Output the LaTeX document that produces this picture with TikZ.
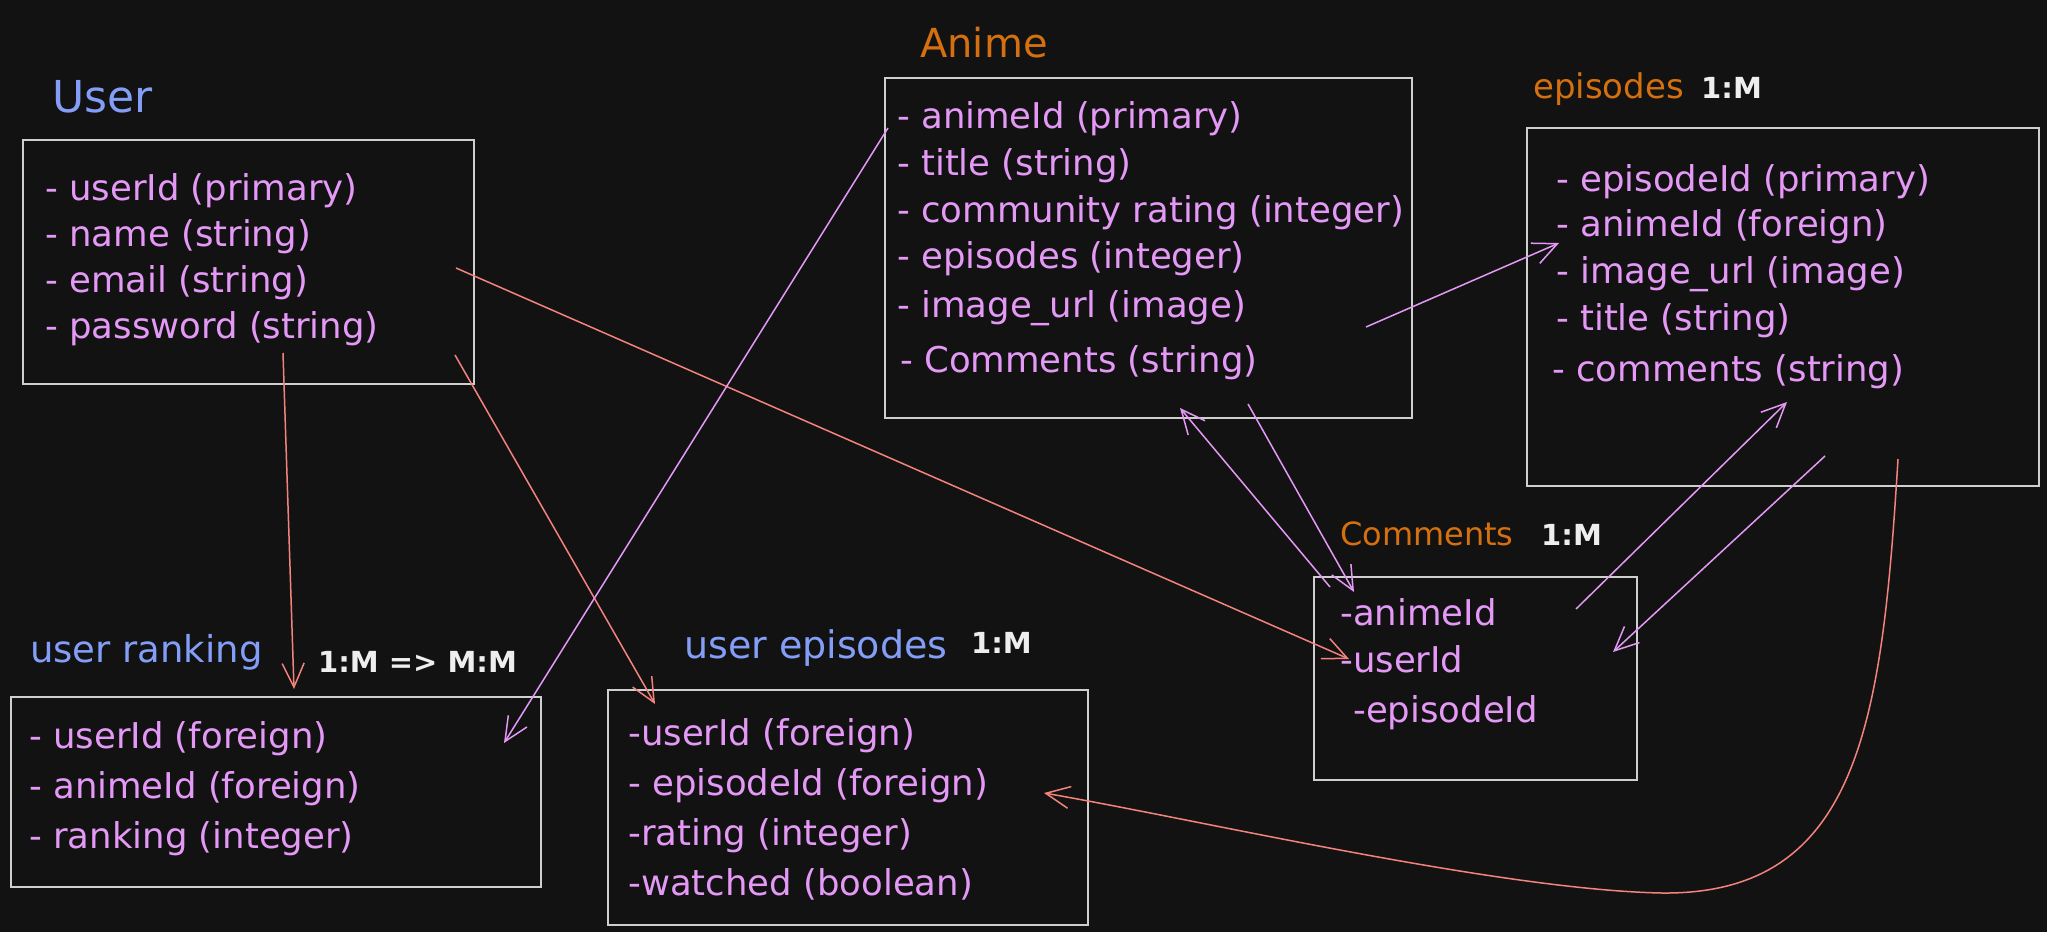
\documentclass[tikz,border=0pt]{standalone}
\usepackage{fontspec}
\setmainfont{DejaVu Sans}
\usetikzlibrary{arrows.meta}
\definecolor{bgc}{HTML}{121212}
\definecolor{vio}{HTML}{E599F7}
\definecolor{blu}{HTML}{849EF8}
\definecolor{org}{HTML}{D4700F}
\definecolor{wht}{HTML}{EEEEEE}
\definecolor{redc}{HTML}{F4837D}
\definecolor{boxc}{HTML}{CFCFCF}
\newcommand\itmfont{\fontsize{35.5}{40}\selectfont}
\begin{document}
\begin{tikzpicture}[x=1pt,y=-1pt,
  tbl/.style={draw=boxc, line width=1.6pt, rectangle, inner sep=0pt, anchor=north west},
  itm/.style={anchor=base west, inner sep=0pt, text=vio, font=\itmfont},
  ttl/.style={anchor=base west, inner sep=0pt},
  card/.style={anchor=base west, inner sep=0pt, text=wht, font=\bfseries\fontsize{29}{34}\selectfont},
  conn/.style={line width=1.5pt, -{Straight Barb[length=24pt,width=22pt]}},
  redarr/.style={conn, draw=redc},
  vioarr/.style={conn, draw=vio}]
\path[use as bounding box, fill=bgc] (0,0) rectangle (2047,932);

% ---------- boxes ----------
\node[tbl, minimum width=451pt, minimum height=244pt] (user) at (22,139) {};
\node[tbl, minimum width=527pt, minimum height=340pt] (anime) at (884,77) {};
\node[tbl, minimum width=512pt, minimum height=358pt] (episodes) at (1526,127) {};
\node[tbl, minimum width=323pt, minimum height=203pt] (comments) at (1313,576) {};
\node[tbl, minimum width=530pt, minimum height=190pt] (ranking) at (10,696) {};
\node[tbl, minimum width=480pt, minimum height=235pt] (uepis) at (607,689) {};

% ---------- titles ----------
\node[ttl, text=blu, font=\fontsize{44}{50}\selectfont] (userT) at (52,112) {User};
\node[ttl, text=org, font=\fontsize{40}{46}\selectfont] (animeT) at (920,57) {Anime};
\node[ttl, text=org, font=\fontsize{34}{40}\selectfont] (epT) at (1533,98) {episodes};
\node[card] (epR) at (1701,98) {1:M};
\node[ttl, text=org, font=\fontsize{32}{38}\selectfont] (comT) at (1340,545) {Comments};
\node[card] (comR) at (1541,545) {1:M};
\node[ttl, text=blu, font=\fontsize{37}{42}\selectfont] (rankT) at (30,662) {user ranking};
\node[card] (rankR) at (318,672) {1:M => M:M};
\node[ttl, text=blu, font=\fontsize{38}{44}\selectfont] (ueT) at (684,658) {user episodes};
\node[card] (ueR) at (971,653) {1:M};

% ---------- User items ----------
\node[itm] (u1) at (45,200) {- userId (primary)};
\node[itm] (u2) at (45,246) {- name (string)};
\node[itm] (u3) at (45,292) {- email (string)};
\node[itm] (u4) at (45,338) {- password (string)};

% ---------- Anime items ----------
\node[itm] (a1) at (897,128) {- animeId (primary)};
\node[itm] (a2) at (897,175) {- title (string)};
\node[itm] (a3) at (897,222) {- community rating (integer)};
\node[itm] (a4) at (897,268) {- episodes (integer)};
\node[itm] (a5) at (897,317) {- image\_url (image)};
\node[itm] (a6) at (900,372) {- Comments (string)};

% ---------- episodes items ----------
\node[itm] (e1) at (1556,191) {- episodeId (primary)};
\node[itm] (e2) at (1556,236) {- animeId (foreign)};
\node[itm] (e3) at (1556,283) {- image\_url (image)};
\node[itm] (e4) at (1556,330) {- title (string)};
\node[itm] (e5) at (1552,381) {- comments (string)};

% ---------- Comments items ----------
\node[itm] (c1) at (1340,625) {-animeId};
\node[itm] (c2) at (1340,672) {-userId};
\node[itm] (c3) at (1353,722) {-episodeId};

% ---------- user ranking items ----------
\node[itm] (r1) at (29,748) {- userId (foreign)};
\node[itm] (r2) at (29,798) {- animeId (foreign)};
\node[itm] (r3) at (29,848) {- ranking (integer)};

% ---------- user episodes items ----------
\node[itm] (ue1) at (628,745) {-userId (foreign)};
\node[itm] (ue2) at (628,795) {- episodeId (foreign)};
\node[itm] (ue3) at (628,845) {-rating (integer)};
\node[itm] (ue4) at (628,895) {-watched (boolean)};

% ---------- connector end points ----------
\coordinate (pR1s) at (283,353);  \coordinate (pR1e) at (294,689);
\coordinate (pR2s) at (455,355);  \coordinate (pR2e) at (655,704);
\coordinate (pR3s) at (456,268);  \coordinate (pR3e) at (1349,659);
\coordinate (pV1s) at (888,128);  \coordinate (pV1e) at (504,743);
\coordinate (pV2s) at (1366,327); \coordinate (pV2e) at (1559,243);
\coordinate (pV3s) at (1248,404); \coordinate (pV3e) at (1354,592);
\coordinate (pV4s) at (1330,587); \coordinate (pV4e) at (1180,408);
\coordinate (pV5s) at (1576,609); \coordinate (pV5e) at (1787,402);
\coordinate (pV6s) at (1825,456); \coordinate (pV6e) at (1613,652);
\coordinate (pR4s) at (1898,459); \coordinate (pR4m) at (1662,893); \coordinate (pR4e) at (1044,793);

% ---------- connectors ----------
\draw[redarr] (pR1s) -- (pR1e);
\draw[redarr] (pR2s) -- (pR2e);
\draw[redarr] (pR3s) -- (pR3e);
\draw[vioarr] (pV1s) -- (pV1e);
\draw[vioarr] (pV2s) -- (pV2e);
\draw[vioarr] (pV3s) -- (pV3e);
\draw[vioarr] (pV4s) -- (pV4e);
\draw[vioarr] (pV5s) -- (pV5e);
\draw[vioarr] (pV6s) -- (pV6e);
\draw[redarr] (pR4s) .. controls (1882,720) and (1860,895) .. (pR4m)
                     .. controls (1500,890) and (1200,820) .. (pR4e);
\end{tikzpicture}
\end{document}
